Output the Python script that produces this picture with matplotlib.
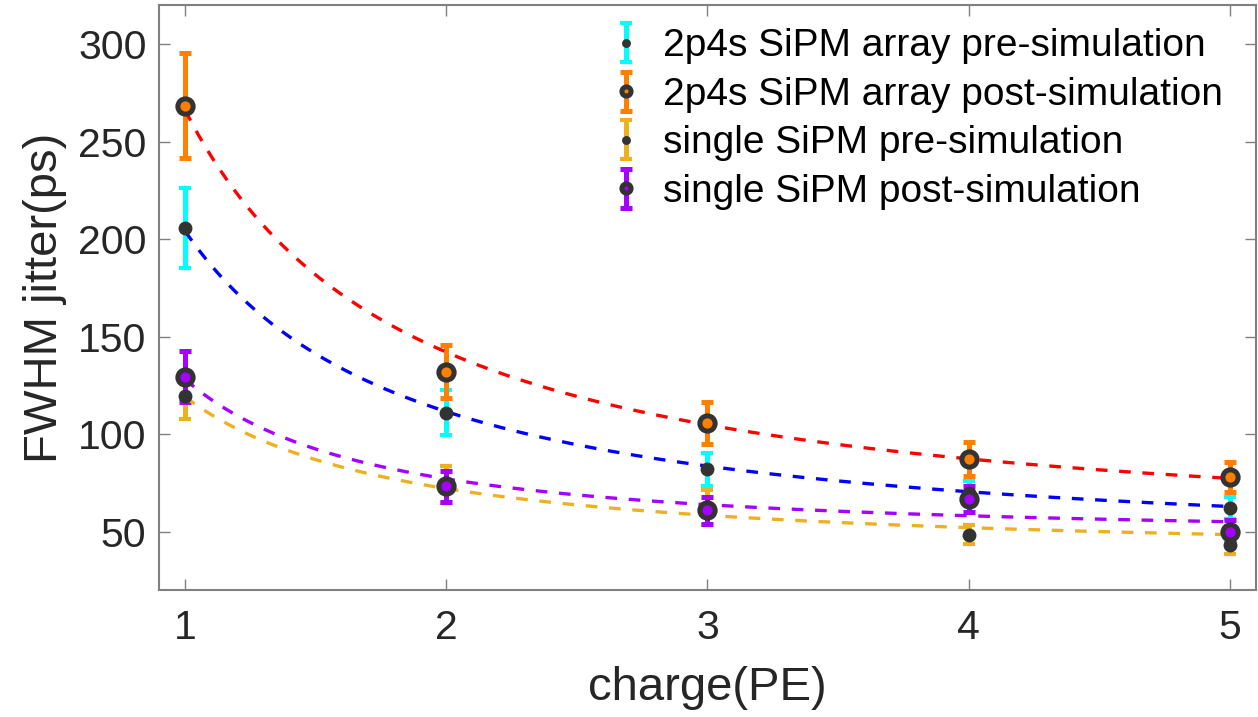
import numpy as np
import matplotlib
matplotlib.use("Agg")
import matplotlib.pyplot as plt

plt.rcParams["font.family"] = ["Liberation Sans", "DejaVu Sans"]

charge = [1, 2, 3, 4, 5]

# 2p4s SiPM array
array_pre = [205.8, 111.0, 82.0, 70.0, 62.0]
array_pre_err = [20.6, 11.5, 8.5, 6.0, 5.5]
array_post = [268.4, 131.9, 105.5, 87.1, 77.9]
array_post_err = [27.0, 13.6, 10.7, 8.7, 7.7]

# single SiPM
single_pre = [119.5, 74.0, 62.5, 48.4, 43.2]
single_pre_err = [12.0, 9.5, 9.0, 5.0, 4.8]
single_post = [129.4, 73.1, 60.8, 66.8, 50.0]
single_post_err = [13.0, 8.0, 7.0, 6.6, 6.0]

# fit parameters for y = a * x^b + c
fit_array_pre = (166.5, -1.17, 37.5)
fit_array_post = (222.0, -1.18, 44.0)
fit_single_pre = (81.9, -1.23, 37.1)
fit_single_post = (81.1, -1.43, 46.9)

labels = [
    "2p4s SiPM array pre-simulation",
    "2p4s SiPM array post-simulation",
    "single SiPM pre-simulation",
    "single SiPM post-simulation",
]

c_cyan = "#00FFFF"
c_orange = "#FF8000"
c_yellow = "#EDB120"
c_purple = "#A600FF"
dark = "#333333"

fig = plt.figure(figsize=(12.58, 7.17), dpi=100)
ax = fig.add_axes([0.1264, 0.1771, 0.872, 0.8159])

ebkw = dict(linestyle="none", elinewidth=3.6, capsize=4, capthick=3)

ax.errorbar(charge, array_pre, yerr=array_pre_err, fmt="o", color=c_cyan,
            mfc=dark, mec=dark, ms=9, label=labels[0], **ebkw)
ax.errorbar(charge, array_post, yerr=array_post_err, fmt="o", color=c_orange,
            mfc=c_orange, mec=dark, ms=11, mew=3.6, label=labels[1], **ebkw)
ax.errorbar(charge, single_pre, yerr=single_pre_err, fmt="o", color=c_yellow,
            mfc=dark, mec=dark, ms=9, label=labels[2], **ebkw)
ax.errorbar(charge, single_post, yerr=single_post_err, fmt="o", color=c_purple,
            mfc=c_purple, mec=dark, ms=11, mew=3.6, label=labels[3], **ebkw)

# fitted curves
xf = np.linspace(charge[0], charge[-1], 300)
for (a, b, c), col in [(fit_array_post, "#FF0000"), (fit_array_pre, "#0000FF"),
                       (fit_single_post, c_purple), (fit_single_pre, c_yellow)]:
    ax.plot(xf, a * xf ** b + c, linestyle=(0, (3.5, 3.5)), color=col, lw=2.4)

ax.set_xlim(0.9, 5.1)
ax.set_ylim(20, 320)
ax.set_xticks(charge)
ax.set_yticks([50, 100, 150, 200, 250, 300])
ax.tick_params(direction="in", length=8, width=1, colors="#808080",
               labelcolor="#262626", labelsize=29.5, top=True, right=True)
ax.tick_params(axis="y", pad=9)
ax.tick_params(axis="x", pad=14)
for s in ax.spines.values():
    s.set_color("#808080")
    s.set_linewidth(1.5)

ax.set_xlabel("charge(PE)", fontsize=34, color="#262626", labelpad=13)
ax.set_ylabel("FWHM jitter(ps)", fontsize=34, color="#262626", labelpad=8)

ax.legend(loc="upper right", bbox_to_anchor=(0.991, 1.0), frameon=False,
          fontsize=28, handlelength=0.5, markerscale=0.6, handletextpad=0.7,
          labelspacing=0.32, borderaxespad=0.2)

fig.savefig("out.png", dpi=100)
